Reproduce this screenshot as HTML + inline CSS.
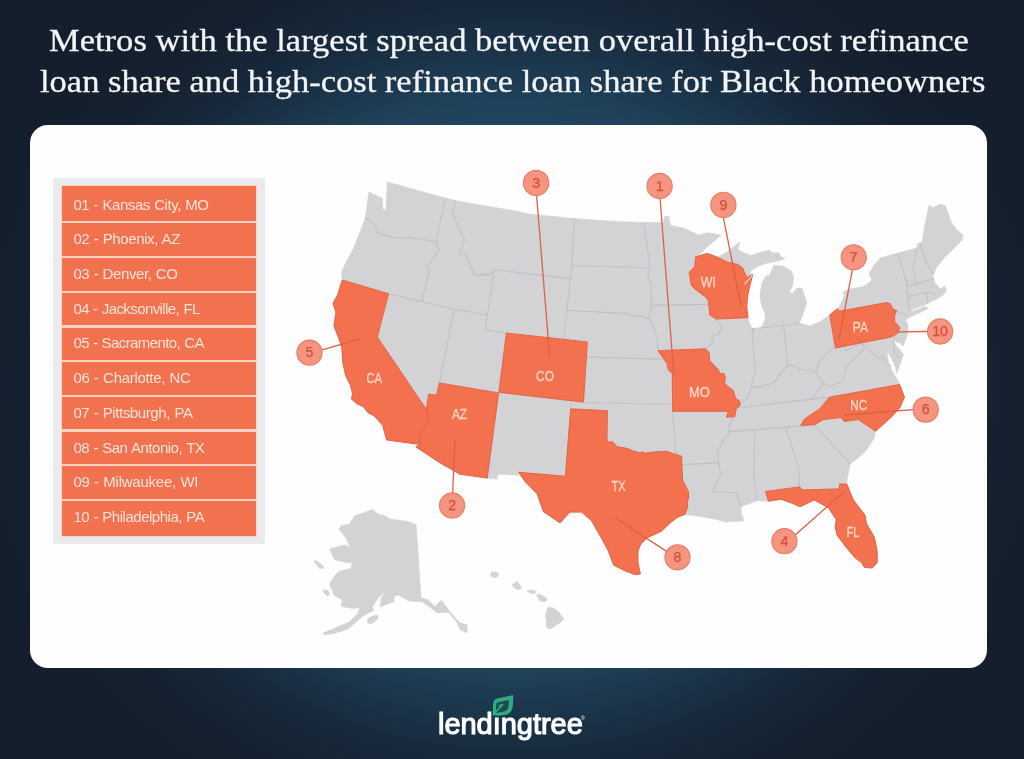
<!DOCTYPE html>
<html lang="en"><head><meta charset="utf-8">
<title>Metros with the largest spread</title>
<style>
html,body{margin:0;padding:0}
body{width:1024px;height:759px;overflow:hidden;position:relative;-webkit-font-smoothing:antialiased;
 font-family:"Liberation Sans",sans-serif;
 background:radial-gradient(ellipse 570px 500px at 512px 385px, #234964 0, #224762 50%, #1f4059 58%, #1b354a 66%, #17293c 75%, #152130 86%, #141e2c 100%);}
.title{position:absolute;left:0;top:0;width:1024px;height:120px;margin:0;color:#f3f4f6;
 font-family:"Liberation Serif",serif;font-size:32px;line-height:40px;font-weight:normal;white-space:nowrap;
 -webkit-text-stroke:0.3px #f3f4f6}
.title span{position:absolute;display:block;transform-origin:0 0}
.t1{left:48.5px;top:20.3px;transform:scaleX(1.079)}
.t2{left:39.5px;top:61.4px;transform:scaleX(1.078)}
.card{position:absolute;left:30.4px;top:125.4px;width:956.6px;height:542.3000000000001px;background:#fefefe;border-radius:18px}
.legend{position:absolute;left:53px;top:177.6px;width:212px;height:366.6px;background:#e9ebef}
.lg{position:absolute;left:0;top:0;will-change:transform}
.title,.logo,.reg{will-change:transform}
.oblock{position:absolute;left:61.8px;top:185.6px;width:194.39999999999998px;height:350.0px;background:#f2714f;
 box-shadow:0 0 0 1px #fbd3c5}
.sep{position:absolute;left:61.8px;width:194.39999999999998px;height:2.2px;background:#fbd3c5}
.row{position:absolute;left:73.4px;height:20px;line-height:20px;color:#fde3d8;font-size:15px;white-space:nowrap;letter-spacing:-0.33px;word-spacing:.6px}
svg{position:absolute;left:0;top:0}
.g{fill:#d3d2d4;stroke:#d3d2d4;stroke-width:.6;stroke-linejoin:round}
.b{fill:none;stroke:#c2c1c3;stroke-width:1.1;stroke-linejoin:round;stroke-linecap:round}
.o{fill:#f3714f;stroke:#e55f42;stroke-width:.9;stroke-linejoin:round}
.w{fill:none;stroke:#f6e3dc;stroke-width:1.1;stroke-linecap:round}
.sl{fill:#fbd8c6;stroke:#fbd8c6;stroke-width:.3;font-size:14.3px;text-anchor:middle;dominant-baseline:central;font-family:"Liberation Sans",sans-serif}
.ml{stroke:#de6048;stroke-width:1.3;stroke-linecap:round}
.mc{fill:#f59480;stroke:#ea7a62;stroke-width:1.1}
.mt{fill:#d2503a;stroke:#d2503a;stroke-width:.25;font-size:14.2px;text-anchor:middle;dominant-baseline:central;font-family:"Liberation Sans",sans-serif}
.logo{position:absolute;left:438.3px;top:709.6px;color:#fff;font-size:29px;font-weight:normal;-webkit-text-stroke:1.15px #fff;letter-spacing:-0.03px;line-height:1;white-space:nowrap;
 transform-origin:0 0;transform:scaleX(1)}
.reg{position:absolute;left:581px;top:716px;color:#fff;font-size:5px;line-height:1}
</style></head>
<body>
<h1 class="title"><span class="t1">Metros with the largest spread between overall high-cost refinance</span><span class="t2">loan share and high-cost refinance loan share for Black homeowners</span></h1>
<div class="card"></div>
<div class="legend"></div>
<div class="lg"><div class="oblock"></div><div class="row" style="top:194.60px;letter-spacing:-0.435px">01 - Kansas City, MO</div><div class="sep" style="top:221.30px"></div><div class="row" style="top:229.32px;letter-spacing:-0.383px">02 - Phoenix, AZ</div><div class="sep" style="top:255.97px"></div><div class="row" style="top:264.04px;letter-spacing:-0.401px">03 - Denver, CO</div><div class="sep" style="top:290.65px"></div><div class="row" style="top:298.76px;letter-spacing:-0.580px">04 - Jacksonville, FL</div><div class="sep" style="top:325.32px"></div><div class="row" style="top:333.48px;letter-spacing:-0.597px">05 - Sacramento, CA</div><div class="sep" style="top:360.00px"></div><div class="row" style="top:368.20px;letter-spacing:-0.301px">06 - Charlotte, NC</div><div class="sep" style="top:394.67px"></div><div class="row" style="top:402.92px;letter-spacing:-0.391px">07 - Pittsburgh, PA</div><div class="sep" style="top:429.35px"></div><div class="row" style="top:437.64px;letter-spacing:-0.477px">08 - San Antonio, TX</div><div class="sep" style="top:464.02px"></div><div class="row" style="top:472.36px;letter-spacing:-0.248px">09 - Milwaukee, WI</div><div class="sep" style="top:498.70px"></div><div class="row" style="top:507.08px;letter-spacing:-0.470px">10 - Philadelphia, PA</div></div>
<svg width="1024" height="759" viewBox="0 0 1024 759">
<g class="land">
<polygon class="g" points="368.8,192.0 382.4,198.5 382.9,209.2 384.4,210.2 386.0,208.5 387.2,181.9 445.0,198.1 454.8,200.4 480.0,204.9 520.0,211.8 526.9,213.7 573.8,218.6 616.7,221.5 644.0,222.5 663.6,222.5 664.6,216.6 668.7,216.6 670.4,225.4 684.9,228.4 698.6,235.2 708.4,232.7 721.0,235.2 708.4,245.9 700.5,253.4 695.7,256.7 707.4,253.4 717.8,257.3 729.6,250.2 739.7,241.9 737.9,249.6 744.5,253.1 751.0,255.5 761.7,251.9 770.0,250.2 771.1,252.5 775.9,253.1 778.9,252.5 780.6,256.1 784.8,259.1 775.9,261.4 766.4,263.2 756.9,266.8 752.2,269.7 749.5,273.5 752.8,274.5 749.8,285.7 747.4,296.4 746.8,307.1 748.0,317.7 749.3,322.5 751.5,327.0 754.5,329.3 757.5,329.6 760.5,328.0 763.2,324.3 765.4,318.5 764.6,312.0 761.7,305.9 759.9,296.4 761.7,283.4 766.4,275.7 769.4,275.7 771.1,271.5 774.1,265.0 783.0,266.2 791.3,270.9 793.7,277.4 792.5,285.7 789.5,291.7 791.9,294.0 797.2,288.1 802.0,288.1 806.7,302.3 804.3,310.6 800.8,319.9 799.2,323.0 809.9,325.9 819.7,322.0 830.4,314.2 838.1,308.3 839.3,306.4 844.6,295.7 842.8,292.2 848.8,289.2 863.0,286.8 870.1,282.1 871.9,279.7 868.9,273.8 874.9,263.7 880.8,257.8 900.0,252.5 917.2,247.9 917.2,244.0 922.1,242.0 925.0,224.5 928.9,205.3 932.8,207.9 940.6,203.9 945.5,205.9 951.4,222.5 956.3,229.3 963.1,235.2 962.1,240.1 954.3,247.9 944.5,257.7 936.7,267.4 932.8,275.2 934.8,283.0 940.6,288.9 944.5,286.0 946.5,289.9 943.6,294.8 937.7,298.5 930.9,301.6 925.9,304.5 915.0,308.5 908.7,311.7 912.0,311.6 916.7,309.8 924.6,306.5 928.5,308.4 918.0,313.5 907.4,318.3 906.6,320.0 905.5,321.0 907.4,322.9 908.1,329.5 906.1,338.7 902.8,346.0 899.5,342.7 896.2,342.0 892.3,337.4 895.5,345.0 899.5,349.3 903.5,354.6 900.2,363.8 896.6,373.8 895.6,367.7 892.9,361.1 888.3,352.6 887.0,353.2 888.3,361.1 889.6,366.4 894.6,375.2 898.2,380.9 899.6,384.5 904.5,397.2 899.6,407.9 891.8,416.7 886.4,421.5 875.7,431.3 873.8,439.1 865.9,450.8 856.2,459.6 850.3,463.5 847.4,478.1 846.8,484.0 853.2,499.6 865.0,515.2 866.4,523.4 874.3,537.1 877.2,550.8 877.2,562.5 872.3,568.0 864.5,567.4 861.6,562.5 854.7,557.6 845.9,546.9 837.1,535.2 835.2,527.3 836.2,519.5 828.4,507.8 814.3,500.0 800.0,506.8 792.8,503.5 781.1,499.2 767.4,501.2 756.7,500.6 749.8,503.5 741.1,506.4 741.1,513.3 744.0,520.7 726.4,522.1 714.7,519.1 699.1,516.2 684.9,514.4 677.7,517.2 670.6,522.5 661.1,531.4 646.9,537.9 641.0,543.9 638.0,551.0 638.0,562.8 640.4,574.1 635.1,574.7 625.6,571.1 613.7,565.2 607.8,549.8 601.9,539.1 591.3,520.5 581.6,512.1 569.8,512.1 560.1,523.0 543.5,511.7 537.1,493.8 525.4,482.0 518.6,472.3 518.5,475.2 498.0,474.2 497.0,479.1 487.2,478.1 459.9,474.2 439.4,462.5 415.9,446.9 419.8,444.5 386.6,440.0 382.7,425.4 374.0,415.7 368.1,412.8 363.2,406.5 357.4,404.0 351.5,399.1 352.5,393.3 350.5,385.5 345.7,375.7 342.7,362.0 341.8,347.4 338.8,338.6 333.9,325.9 335.9,312.2 333.0,303.4 337.6,294.8 342.3,280.0 341.5,272.3 344.0,266.4 353.6,247.9 365.3,218.6"/>
<polygon class="g" points="372.5,509.4 377.4,513.7 384.2,515.6 390.1,519.1 407.7,521.5 416.1,524.4 418.4,558.6 420.9,597.7 427.2,599.6 435.0,606.4 441.3,600.2 447.7,608.4 454.5,617.2 460.4,623.0 467.2,625.0 467.2,632.8 460.4,629.9 456.5,622.1 448.7,612.3 437.0,612.9 429.1,606.4 421.3,601.6 409.6,601.2 397.9,594.7 394.0,596.7 394.0,601.6 380.3,607.0 381.3,597.7 385.8,590.8 378.4,597.7 372.5,606.4 373.5,610.4 362.7,616.2 354.9,623.0 348.1,628.9 333.4,633.8 323.7,634.8 323.7,632.8 337.3,627.0 349.1,622.1 357.9,613.3 359.8,607.4 353.0,608.4 341.3,606.4 342.2,599.6 334.4,595.7 329.5,584.0 334.4,576.2 339.3,571.3 351.0,568.4 352.0,562.5 345.2,562.5 334.4,559.6 329.5,548.8 345.2,544.9 350.0,547.9 346.1,538.1 338.9,529.3 341.3,525.4 349.1,524.4 354.9,515.6 366.6,511.7"/>
<polygon class="g" points="313.9,561.5 316.0,560.5 323.7,566.5 323.0,568.6 319.0,568.0"/>
<polygon class="g" points="322.7,589.8 328.0,590.5 329.7,594.5 327.5,596.0 324.5,593.5"/>
<polygon class="g" points="367.6,619.1 372.0,616.0 378.0,615.2 378.0,618.5 374.0,622.0 370.5,624.0 367.5,622.5"/>
<polygon class="g" points="490.5,573.5 493.0,572.0 497.0,572.2 498.6,574.5 497.0,577.0 493.5,577.5 491.0,576.0"/>
<polygon class="g" points="512.2,584.0 515.0,583.2 517.1,581.1 518.5,583.5 522.0,587.9 519.0,589.6 516.1,588.9 513.5,587.0"/>
<polygon class="g" points="526.9,590.8 531.0,590.0 536.6,591.8 535.0,593.0 532.7,593.8 529.0,592.6"/>
<polygon class="g" points="536.6,594.7 540.0,594.5 546.4,597.7 546.8,600.0 545.4,601.6 542.0,601.6 539.6,600.6 538.0,597.5"/>
<polygon class="g" points="548.4,607.0 553.0,608.0 557.1,610.4 560.0,614.0 564.0,619.1 560.5,622.5 556.2,625.0 553.0,627.5 550.3,628.9 547.6,628.2 546.4,627.0 546.6,621.0 545.4,616.2 546.5,611.0"/>
</g>
<g class="bd">
<polyline class="b" points="365.3,218.6 370.6,221.0 375.9,226.9 376.5,232.3 382.4,234.6 391.9,237.0 402.6,238.5 408.5,237.6 420.4,238.8 436.2,242.4"/>
<polyline class="b" points="445.0,198.1 436.2,242.0"/>
<polyline class="b" points="436.2,242.0 439.1,249.8 427.4,266.4 429.4,271.3 421.6,301.6"/>
<polyline class="b" points="454.8,200.4 452.8,214.7 464.5,240.1 459.6,253.8 466.5,254.7 474.3,275.2 489.9,275.2 493.8,270.4"/>
<polyline class="b" points="494.6,269.8 487.4,315.2"/>
<polyline class="b" points="480.0,273.9 488.8,275.2 494.6,269.8 568.9,278.6"/>
<polyline class="b" points="388.6,293.7 421.6,301.6 454.1,309.3 487.4,315.2"/>
<polyline class="b" points="454.1,309.3 439.4,382.9"/>
<polyline class="b" points="487.4,315.2 485.0,329.8 506.4,333.1"/>
<polyline class="b" points="506.4,333.1 498.9,392.3"/>
<polyline class="b" points="574.3,218.6 571.8,265.5 566.9,310.3 564.0,338.6"/>
<polyline class="b" points="571.8,265.5 649.9,268.0"/>
<polyline class="b" points="644.0,222.5 646.0,238.1 650.0,268.0 648.0,275.2 650.9,285.0 651.7,305.4 648.9,318.1"/>
<polyline class="b" points="566.9,310.3 626.5,313.6 632.3,316.1 642.1,316.1 649.9,320.0"/>
<polyline class="b" points="649.9,320.0 654.8,330.8 657.7,340.5 658.0,350.7"/>
<polyline class="b" points="651.7,305.4 708.4,304.4"/>
<polyline class="b" points="587.4,357.1 661.6,359.1"/>
<polyline class="b" points="583.5,402.7 672.4,404.2"/>
<polyline class="b" points="571.8,403.4 570.7,408.8"/>
<polyline class="b" points="570.7,408.8 565.4,476.2"/>
<polyline class="b" points="498.6,392.9 487.2,478.1"/>
<polyline class="b" points="498.9,392.3 583.5,402.1"/>
<polyline class="b" points="672.6,411.4 675.8,451.8 681.6,456.3"/>
<polyline class="b" points="682.6,464.5 718.6,462.9"/>
<polyline class="b" points="733.8,417.3 728.4,425.4 729.3,431.6 724.5,439.1 717.6,450.8 718.6,463.5 720.5,474.2 712.7,491.8 737.1,492.8 738.1,497.7 741.1,506.4"/>
<polyline class="b" points="729.3,431.6 796.7,426.4 814.3,425.4"/>
<polyline class="b" points="737.7,407.9 752.3,406.0 811.9,399.1 829.3,397.2"/>
<polyline class="b" points="754.7,431.3 753.8,478.1 756.7,500.6"/>
<polyline class="b" points="786.0,428.3 798.7,468.4 799.6,486.9"/>
<polyline class="b" points="814.3,425.4 826.0,437.1 841.6,454.7 850.3,463.5"/>
<polyline class="b" points="716.2,319.1 721.1,326.9 719.1,333.7 711.3,337.6 713.2,342.5 705.4,348.8"/>
<polyline class="b" points="752.3,328.8 755.2,371.8 752.3,381.6 751.3,387.4 746.4,399.1 740.0,403.0"/>
<polyline class="b" points="752.3,328.8 783.6,325.3 799.2,323.0"/>
<polyline class="b" points="783.6,325.3 787.5,365.0"/>
<polyline class="b" points="787.5,365.0 780.6,373.8 774.8,381.6 768.9,384.5 761.1,386.4 751.3,387.4"/>
<polyline class="b" points="787.5,365.0 794.3,365.9 802.1,369.8 811.9,369.8 815.8,372.8"/>
<polyline class="b" points="815.8,372.8 818.7,362.0 824.6,355.2 832.4,348.4 835.2,348.4"/>
<polyline class="b" points="815.8,372.8 823.6,383.5 811.9,399.1"/>
<polyline class="b" points="823.6,383.5 829.5,386.4 842.0,381.6 846.9,365.9 860.5,352.3 865.4,346.4 878.1,358.1"/>
<polyline class="b" points="835.2,348.4 845.0,346.5 846.0,351.0 860.5,343.0 865.4,346.4"/>
<polyline class="b" points="878.1,358.1 882.0,356.0 886.5,363.0 891.0,366.5"/>
<polyline class="b" points="893.8,336.6 894.5,352.0 899.0,357.5"/>
<polyline class="b" points="896.7,310.9 906.4,315.2"/>
<polyline class="b" points="897.7,253.8 906.4,281.1 907.0,286.0 908.0,296.7 909.4,311.3"/>
<polyline class="b" points="917.2,247.9 913.3,265.5 915.2,284.0"/>
<polyline class="b" points="920.1,244.0 927.0,263.5 933.8,274.3"/>
<polyline class="b" points="907.0,286.0 932.8,279.1"/>
<polyline class="b" points="908.0,296.7 928.9,291.8 935.0,294.5"/>
<polyline class="b" points="926.6,292.8 927.9,302.6"/>
</g>
<g class="or">
<polygon class="o" points="342.3,280.0 388.6,293.7 377.3,337.0 426.1,408.9 429.1,420.6 424.7,426.4 420.2,435.2 419.8,444.5 386.6,440.0 382.7,425.4 374.0,415.7 368.1,412.8 363.2,406.5 357.4,404.0 351.5,399.1 352.5,393.3 350.5,385.5 345.7,375.7 342.7,362.0 341.8,347.4 338.8,338.6 333.9,325.9 335.9,312.2 333.0,303.4 337.6,294.8"/>
<polygon class="o" points="439.4,382.9 498.6,392.9 487.2,478.1 459.9,474.2 439.4,462.5 415.9,446.9 419.8,444.5 420.2,435.2 424.7,426.4 429.1,420.6 426.4,408.9 428.7,394.3 436.5,395.2"/>
<polygon class="o" points="506.4,333.1 587.4,341.9 583.5,402.1 498.9,392.3"/>
<polygon class="o" points="570.7,408.8 607.4,410.7 607.0,440.6 609.4,442.2 612.3,441.5 615.2,444.5 617.2,446.9 625.0,447.9 628.9,448.9 632.8,450.9 636.7,451.8 639.6,452.9 642.6,451.9 645.5,453.2 650.4,452.3 656.3,451.8 666.0,451.2 681.6,456.3 682.6,480.1 688.5,491.8 688.7,497.7 687.2,502.0 687.8,507.1 684.9,514.4 677.7,517.2 670.6,522.5 661.1,531.4 646.9,537.9 641.0,543.9 638.0,551.0 638.0,562.8 640.4,574.1 635.1,574.7 625.6,571.1 613.7,565.2 607.8,549.8 601.9,539.1 591.3,520.5 581.6,512.1 569.8,512.1 560.1,523.0 543.5,511.7 537.1,493.8 525.4,482.0 518.6,472.3 565.4,476.2"/>
<polygon class="o" points="658.0,350.7 705.4,348.8 709.3,352.7 709.6,360.5 714.7,365.9 718.6,369.8 719.6,373.2 724.0,373.7 725.4,377.1 724.5,382.9 728.4,386.9 733.2,390.3 735.7,398.6 739.6,401.0 740.1,405.4 736.2,408.8 734.7,416.8 726.4,417.1 728.4,411.3 672.7,411.3 672.2,372.2 669.8,371.7 667.3,367.3 667.3,363.9 664.4,360.0"/>
<polygon class="o" points="695.7,256.7 707.4,253.4 717.8,257.3 727.3,262.0 737.9,264.4 742.7,267.9 745.1,273.9 746.8,277.4 752.8,274.5 749.8,285.7 747.4,296.4 746.8,307.1 748.0,317.7 716.2,319.1 709.9,315.2 708.4,301.5 706.4,297.6 694.7,288.9 691.2,285.0 689.2,272.3 694.7,266.4"/>
<polygon class="o" points="829.7,314.8 837.6,308.6 838.9,311.3 886.8,302.5 890.3,303.8 892.9,309.1 896.5,310.4 894.7,315.2 894.7,321.4 900.0,328.0 897.3,333.7 890.3,337.2 835.4,347.9"/>
<polygon class="o" points="801.0,424.5 804.9,418.7 819.5,408.9 829.3,397.2 899.6,384.5 904.5,397.2 899.6,407.9 891.8,416.7 886.4,421.5 875.7,431.3 858.1,419.5 844.5,421.5 840.5,417.6 823.4,419.6 815.2,424.4 801.0,425.6"/>
<polygon class="o" points="765.5,491.4 799.6,486.9 802.6,489.8 838.7,488.9 839.7,484.0 846.8,484.0 853.2,499.6 865.0,515.2 866.4,523.4 874.3,537.1 877.2,550.8 877.2,562.5 872.3,568.0 864.5,567.4 861.6,562.5 854.7,557.6 845.9,546.9 837.1,535.2 835.2,527.3 836.2,519.5 828.4,507.8 814.3,500.0 800.0,506.8 792.8,503.5 781.1,499.2 768.4,501.2"/>
</g>
<polyline class="w" points="744.6,284.0 752.2,275.6"/>
<text class="sl" x="708.4" y="281.8" textLength="15.1" lengthAdjust="spacingAndGlyphs">WI</text>
<text class="sl" x="374.2" y="377.8" textLength="15.6" lengthAdjust="spacingAndGlyphs">CA</text>
<text class="sl" x="459.5" y="414.3" textLength="15.1" lengthAdjust="spacingAndGlyphs">AZ</text>
<text class="sl" x="545.0" y="375.6" textLength="17.8" lengthAdjust="spacingAndGlyphs">CO</text>
<text class="sl" x="699.5" y="392.1" textLength="20.9" lengthAdjust="spacingAndGlyphs">MO</text>
<text class="sl" x="860.4" y="327.2" textLength="15.2" lengthAdjust="spacingAndGlyphs">PA</text>
<text class="sl" x="858.8" y="405.2" textLength="17.0" lengthAdjust="spacingAndGlyphs">NC</text>
<text class="sl" x="618.6" y="485.9" textLength="14.1" lengthAdjust="spacingAndGlyphs">TX</text>
<text class="sl" x="853.0" y="531.7" textLength="12.4" lengthAdjust="spacingAndGlyphs">FL</text>
<line class="ml" x1="660.1" y1="198.7" x2="673.8" y2="374.5"/>
<line class="ml" x1="452.7" y1="492.8" x2="455.0" y2="439.1"/>
<line class="ml" x1="536.6" y1="195.5" x2="549.7" y2="357.1"/>
<line class="ml" x1="795.7" y1="534.4" x2="844.0" y2="491.8"/>
<line class="ml" x1="322.2" y1="349.9" x2="359.3" y2="339.2"/>
<line class="ml" x1="913.3" y1="409.6" x2="844.7" y2="415.0"/>
<line class="ml" x1="852.3" y1="270.4" x2="839.1" y2="338.6"/>
<line class="ml" x1="666.5" y1="551.4" x2="614.9" y2="517.5"/>
<line class="ml" x1="723.4" y1="217.6" x2="741.0" y2="306.0"/>
<line class="ml" x1="927.3" y1="331.5" x2="898.6" y2="331.8"/>
<circle class="mc" cx="659.6" cy="186.0" r="12.6"/>
<text class="mt" x="659.6" y="185.6">1</text>
<circle class="mc" cx="452.1" cy="505.5" r="12.6"/>
<text class="mt" x="452.1" y="505.1">2</text>
<circle class="mc" cx="536.1" cy="182.9" r="12.6"/>
<text class="mt" x="536.1" y="182.5">3</text>
<circle class="mc" cx="784.4" cy="541.2" r="12.6"/>
<text class="mt" x="784.4" y="540.8">4</text>
<circle class="mc" cx="309.5" cy="352.7" r="12.6"/>
<text class="mt" x="309.5" y="352.3">5</text>
<circle class="mc" cx="925.7" cy="409.6" r="12.6"/>
<text class="mt" x="925.7" y="409.2">6</text>
<circle class="mc" cx="853.7" cy="257.3" r="12.6"/>
<text class="mt" x="853.7" y="256.9">7</text>
<circle class="mc" cx="677.5" cy="557.3" r="12.6"/>
<text class="mt" x="677.5" y="556.9">8</text>
<circle class="mc" cx="723.4" cy="204.9" r="12.6"/>
<text class="mt" x="723.4" y="204.5">9</text>
<circle class="mc" cx="940.1" cy="331.5" r="12.6"/>
<text class="mt" x="940.1" y="331.1">10</text>
<g class="leaf">
<path fill="#2dae81" d="M492.8,715 L493.1,704.5 C493.3,701 494.6,699.2 497.2,698.4 L513.4,695 L512.9,704.6 C512.7,709.6 510.6,713.4 506.6,714.7 L498,715.8 Z"/>
<path fill="#1c4a54" d="M497,702.5 L508.9,699.9 L508.4,706.6 C508.1,709.5 506.7,711 504.3,711.5 L496,712.9 L496.2,705 Z"/>
<path d="M493.2,714.8 L502.4,704.9 M499.2,705.7 L502.9,704.5" stroke="#2dae81" stroke-width="1.5" fill="none" stroke-linecap="round"/>
</g>
</svg>
<div class="logo">lend&#305;ngtree</div>
<div class="reg">&#174;</div>
</body></html>
